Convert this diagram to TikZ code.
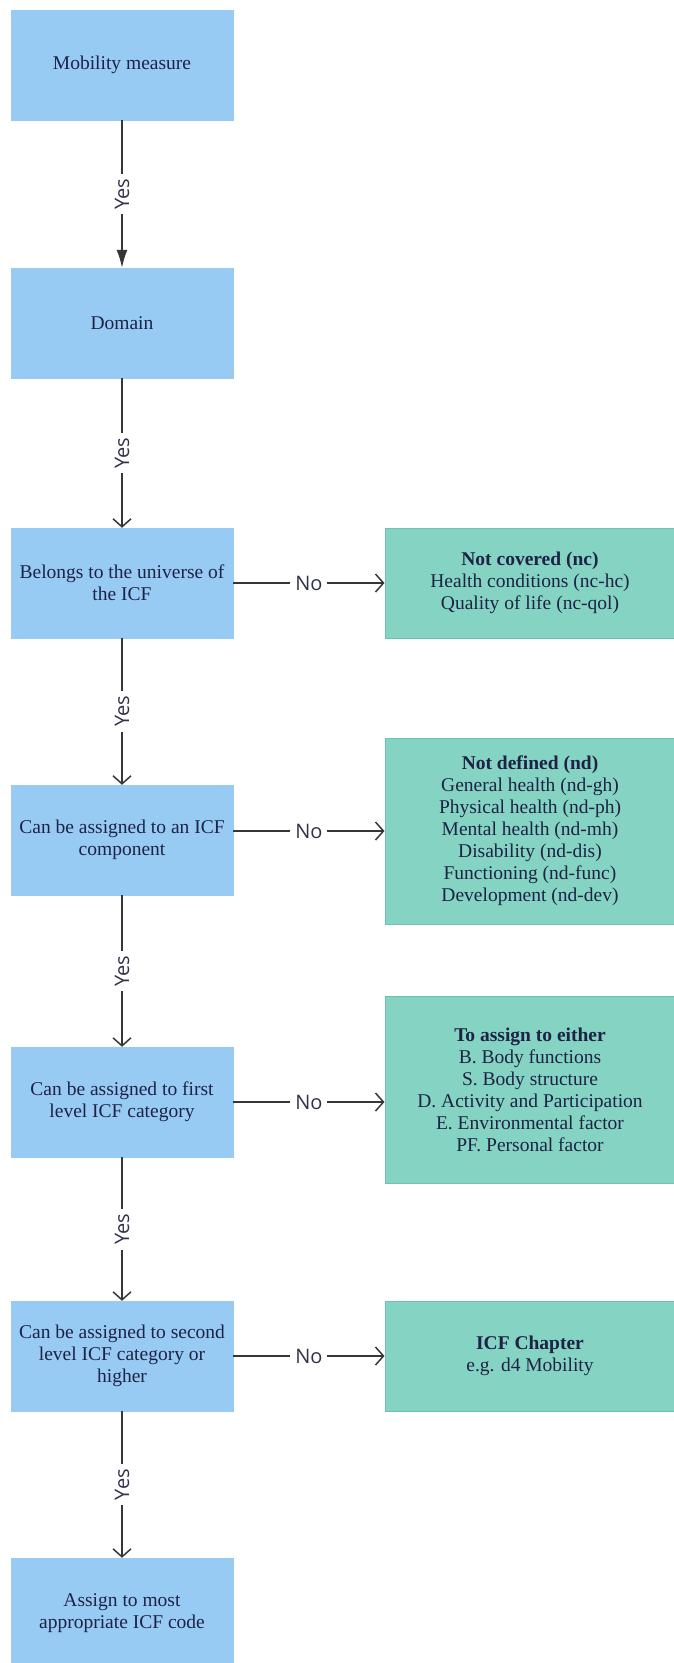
\documentclass[tikz,border=0pt]{standalone}
\usepackage{fontspec}
\setmainfont{Liberation Serif}
\newfontfamily\labelfont{Open Sans}
\usetikzlibrary{arrows.meta}

\definecolor{boxblue}{HTML}{97CBF3}
\definecolor{boxgreen}{HTML}{85D3C2}
\definecolor{greenline}{HTML}{6CC3AF}
\definecolor{inkblue}{HTML}{1E2346}
\definecolor{arrowgray}{HTML}{363636}

\tikzset{
  bluebox/.style={fill=boxblue, draw=boxblue, minimum width=222pt, minimum height=110pt,
    align=center, text=inkblue, inner sep=4pt, font=\fontsize{19.5}{22}\selectfont},
  greenbox/.style={fill=boxgreen, draw=greenline, line width=1pt, minimum width=290pt,
    align=center, text=inkblue, inner sep=4pt, font=\fontsize{19.5}{22}\selectfont},
  flow/.style={draw=arrowgray, line width=1.5pt, -{Straight Barb[length=8pt,width=18pt]}},
  yeslbl/.style={fill=white, rotate=90, text=arrowgray!90!blue, inner sep=5pt,
    font=\labelfont\fontsize{20}{22}\selectfont},
  nolbl/.style={fill=white, text=arrowgray!90!blue, inner sep=5pt,
    font=\labelfont\fontsize{20}{22}\selectfont}
}

\begin{document}
\begin{tikzpicture}[x=1pt, y=-1pt]
  % Page frame
  \useasboundingbox (0,0) rectangle (673,1663);

  % Decision steps (left column)
  \node[bluebox] (measure) at (122,65) {Mobility measure};
  \node[bluebox] (domain) at (122,323) {Domain};
  \node[bluebox] (universe) at (122,583) {Belongs to the universe of\\the ICF};
  \node[bluebox] (component) at (122,840) {Can be assigned to an ICF\\component};
  \node[bluebox] (firstlvl) at (122,1102) {Can be assigned to first\\level ICF category};
  \node[bluebox] (secondlvl) at (122,1356) {Can be assigned to second\\level ICF category or\\higher};
  \node[bluebox] (code) at (122,1613) {Assign to most\\appropriate ICF code};

  % Outcomes (right column)
  \node[greenbox, minimum height=110pt] (notcov) at (530,583)
    {\textbf{Not covered (nc)}\\Health conditions (nc-hc)\\Quality of life (nc-qol)};
  \node[greenbox, minimum height=186pt] (notdef) at (530,831)
    {\textbf{Not defined (nd)}\\General health (nd-gh)\\Physical health (nd-ph)\\Mental health (nd-mh)\\Disability (nd-dis)\\Functioning (nd-func)\\Development (nd-dev)};
  \node[greenbox, minimum height=187pt] (either) at (530,1090)
    {\textbf{To assign to either}\\B. Body functions\\S. Body structure\\D. Activity and Participation\\E. Environmental factor\\PF. Personal factor};
  \node[greenbox, minimum height=110pt] (chapter) at (530,1356)
    {\textbf{ICF Chapter}\\e.g. d4 Mobility};

  % Yes arrows
  \draw[flow, -{Latex[length=18pt,width=11pt]}] (measure) -- node[yeslbl] {Yes} (domain);
  \foreach \a/\b in {domain/universe, universe/component, component/firstlvl,
                     firstlvl/secondlvl, secondlvl/code}
    \draw[flow] (\a) -- node[yeslbl] {Yes} (\b);

  % No arrows
  \draw[flow] (universe) -- node[nolbl] {No} (notcov.west |- universe);
  \draw[flow] (component.east |- notdef) -- node[nolbl] {No} (notdef);
  \draw[flow] (firstlvl) -- node[nolbl] {No} (either.west |- firstlvl);
  \draw[flow] (secondlvl) -- node[nolbl] {No} (chapter.west |- secondlvl);
\end{tikzpicture}
\end{document}
